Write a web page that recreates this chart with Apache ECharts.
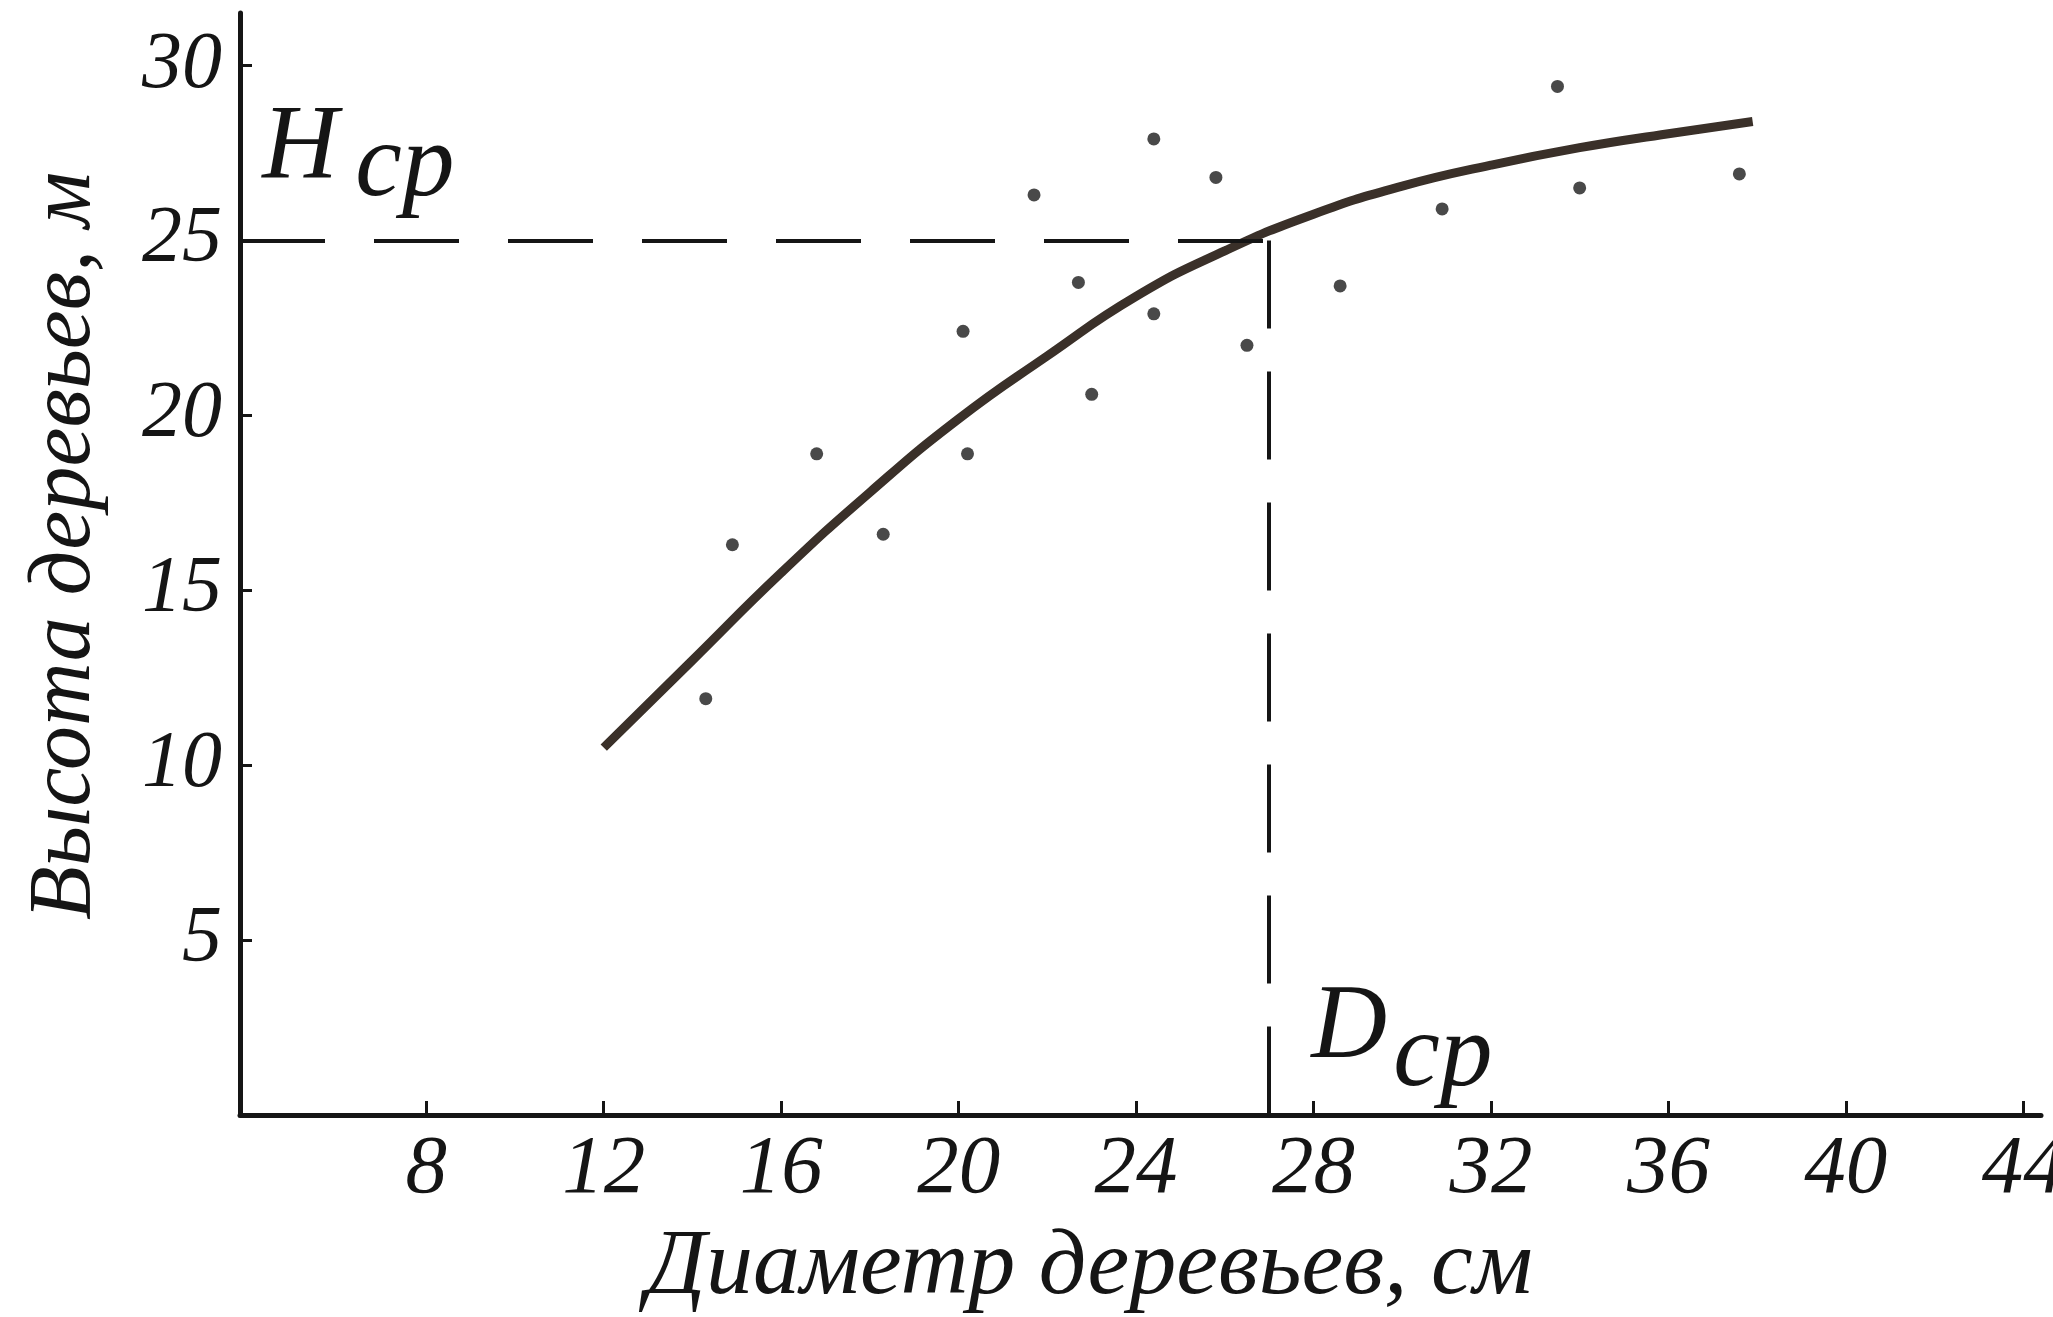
<!DOCTYPE html>
<html>
<head>
<meta charset="utf-8">
<script src="https://cdn.jsdelivr.net/npm/echarts@6/dist/echarts.min.js"></script>
<style>
  html, body { margin: 0; padding: 0; background: #ffffff; }
  #chart { width: 2053px; height: 1317px; }
</style>
</head>
<body>
<div id="chart"></div>
<script>
// ---- data ----
const xTickValues = [8, 12, 16, 20, 24, 28, 32, 36, 40, 44];
const yTickValues = [5, 10, 15, 20, 25, 30];

// observed trees: diameter (cm) and height (m)
const treeDiameters = [14.3, 14.9, 16.8, 18.3, 20.2, 20.1, 21.7, 22.7, 23.0, 24.4, 24.4, 25.8, 26.5, 28.6, 30.9, 33.5, 34.0, 37.6];
const treeHeights   = [11.9, 16.3, 18.9, 16.6, 18.9, 22.4, 26.3, 23.8, 20.6, 27.9, 22.9, 26.8, 22.0, 23.7, 25.9, 29.4, 26.5, 26.9];

// height curve
const curveDiameters = [12.0, 14.0, 16.0, 18.0, 20.0, 22.0, 24.0, 26.0, 28.0, 30.0, 32.0, 34.0, 36.0, 37.9];
const curveHeights   = [10.5, 13.0, 15.5, 17.8, 19.9, 21.7, 23.4, 24.7, 25.75, 26.55, 27.15, 27.65, 28.05, 28.4];

// mean diameter and mean height
const meanDiameter = 27.0;
const meanHeight = 25;

// annotation texts
const annotTexts = ['H', 'cp', 'D', 'cp'];
const annotX = [4.3, 6.4, 27.95, 29.8];
const annotY = [27.6, 27.1, 2.45, 1.65];

// ---- chart ----
const FONT = '"Liberation Serif", "DejaVu Serif", serif';
const INK = '#151515';
const chart = echarts.init(document.getElementById('chart'), null, { renderer: 'canvas' });

const scatterData = treeDiameters.map((d, i) => [d, treeHeights[i]]);
const curveData = curveDiameters.map((d, i) => [d, curveHeights[i]]);

chart.setOption({
  backgroundColor: '#ffffff',
  animation: false,
  grid: {
    left: 240, right: 12, top: 13, bottom: 202,
    containLabel: false,
    outerBoundsMode: 'none'
  },
  xAxis: {
    type: 'value',
    min: 3.8, max: 44.4,
    splitLine: { show: false },
    axisLine: { show: true, onZero: false, lineStyle: { color: INK, width: 5 } },
    axisTick: { show: true, inside: true, length: 14, customValues: xTickValues, lineStyle: { color: INK, width: 3 } },
    axisLabel: {
      show: true, customValues: xTickValues, margin: 14,
      fontFamily: FONT, fontStyle: 'italic', fontSize: 83, color: INK
    },
    name: 'Диаметр деревьев, см',
    nameLocation: 'middle',
    nameGap: 106,
    nameTextStyle: { fontFamily: FONT, fontStyle: 'italic', fontSize: 94, color: INK, padding: [0, 102, 0, 0] }
  },
  yAxis: {
    type: 'value',
    min: 0, max: 31.5,
    splitLine: { show: false },
    axisLine: { show: true, onZero: false, lineStyle: { color: INK, width: 5 } },
    axisTick: { show: true, inside: true, length: 12, customValues: yTickValues, lineStyle: { color: INK, width: 3 } },
    axisLabel: {
      show: true, customValues: yTickValues, margin: 18,
      fontFamily: FONT, fontStyle: 'italic', fontSize: 80, color: INK
    },
    name: 'Высота деревьев, м',
    nameLocation: 'middle',
    nameGap: 130,
    nameTextStyle: { fontFamily: FONT, fontStyle: 'italic', fontSize: 88, color: INK, padding: [0, 0, 0, 36] }
  },
  series: [
    {
      name: 'trees',
      type: 'scatter',
      data: scatterData,
      symbol: 'circle',
      symbolSize: 13,
      itemStyle: { color: '#1c1c1c' },
      z: 4,
      markLine: {
        silent: true,
        symbol: ['none', 'none'],
        label: { show: false },
        animation: false,
        data: [
          [
            { coord: [3.8, meanHeight], lineStyle: { color: INK, width: 4, type: [85, 49] } },
            { coord: [meanDiameter, meanHeight] }
          ],
          [
            { coord: [meanDiameter, meanHeight], lineStyle: { color: INK, width: 4, type: [88, 43] } },
            { coord: [meanDiameter, 0] }
          ]
        ]
      }
    },
    {
      name: 'curve',
      type: 'line',
      data: curveData,
      smooth: 0.5,
      showSymbol: false,
      lineStyle: { color: '#3a3029', width: 9 },
      z: 3
    }
  ]
});

// annotations anchored to data coordinates
const sizes = [105, 105, 105, 105];
const graphics = annotTexts.map((t, i) => {
  const p = chart.convertToPixel({ gridIndex: 0 }, [annotX[i], annotY[i]]);
  return {
    type: 'text',
    x: p[0], y: p[1],
    style: {
      text: t,
      font: 'italic ' + sizes[i] + 'px ' + FONT,
      fill: INK,
      align: 'left',
      verticalAlign: 'middle'
    },
    z: 10
  };
});
chart.setOption({ graphic: graphics });
</script>
</body>
</html>
